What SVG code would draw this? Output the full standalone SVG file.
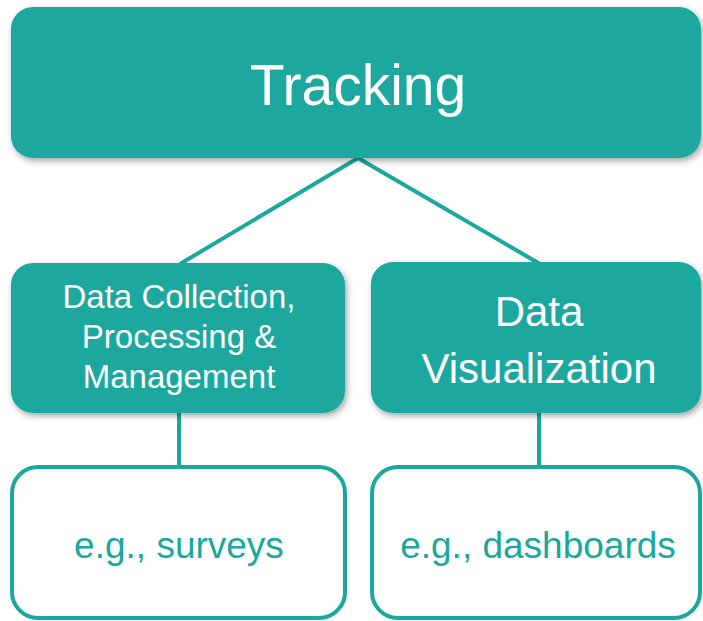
<svg xmlns="http://www.w3.org/2000/svg" width="703" height="621" viewBox="0 0 703 621">
  <defs>
    <filter id="shadow" x="-10%" y="-10%" width="120%" height="130%">
      <feDropShadow dx="2" dy="3" stdDeviation="3" flood-color="#000" flood-opacity="0.35"/>
    </filter>
  </defs>
  <style>
    .solid { fill: #1aa89e; filter: url(#shadow); }
    .outline { fill: #fff; stroke: #1aa89e; stroke-width: 4; }
    .link { stroke: #1aa89e; stroke-width: 4; fill: none; }
    text { font-family: "Liberation Sans", Arial, sans-serif; text-anchor: middle; }
    .light { fill: #fff; }
    .teal { fill: #1aa89e; }
  </style>
  <rect width="703" height="621" fill="#fff"/>

  <g id="connectors">
    <line class="link" x1="358" y1="158" x2="180" y2="264"/>
    <line class="link" x1="358" y1="158" x2="540" y2="264"/>
    <line class="link" x1="179" y1="412" x2="179" y2="468"/>
    <line class="link" x1="539" y1="412" x2="539" y2="468"/>
  </g>

  <g id="tracking">
    <rect class="solid" x="11" y="7" width="690" height="151" rx="22"/>
    <text class="light" x="358" y="105" font-size="57">Tracking</text>
  </g>

  <g id="data-collection">
    <rect class="solid" x="11" y="263" width="334" height="150" rx="22"/>
    <text class="light" x="179" y="308" font-size="33">Data Collection,</text>
    <text class="light" x="179" y="348" font-size="33">Processing &amp;</text>
    <text class="light" x="179" y="388" font-size="33">Management</text>
  </g>

  <g id="data-visualization">
    <rect class="solid" x="371" y="262" width="330" height="151" rx="22"/>
    <text class="light" x="539" y="326" font-size="42">Data</text>
    <text class="light" x="539" y="383" font-size="42">Visualization</text>
  </g>

  <g id="surveys">
    <rect class="outline" x="12" y="467" width="333" height="151" rx="26"/>
    <text class="teal" x="179" y="558" font-size="37">e.g., surveys</text>
  </g>

  <g id="dashboards">
    <rect class="outline" x="372" y="467" width="328" height="151" rx="26"/>
    <text class="teal" x="538" y="558" font-size="37">e.g., dashboards</text>
  </g>
</svg>
